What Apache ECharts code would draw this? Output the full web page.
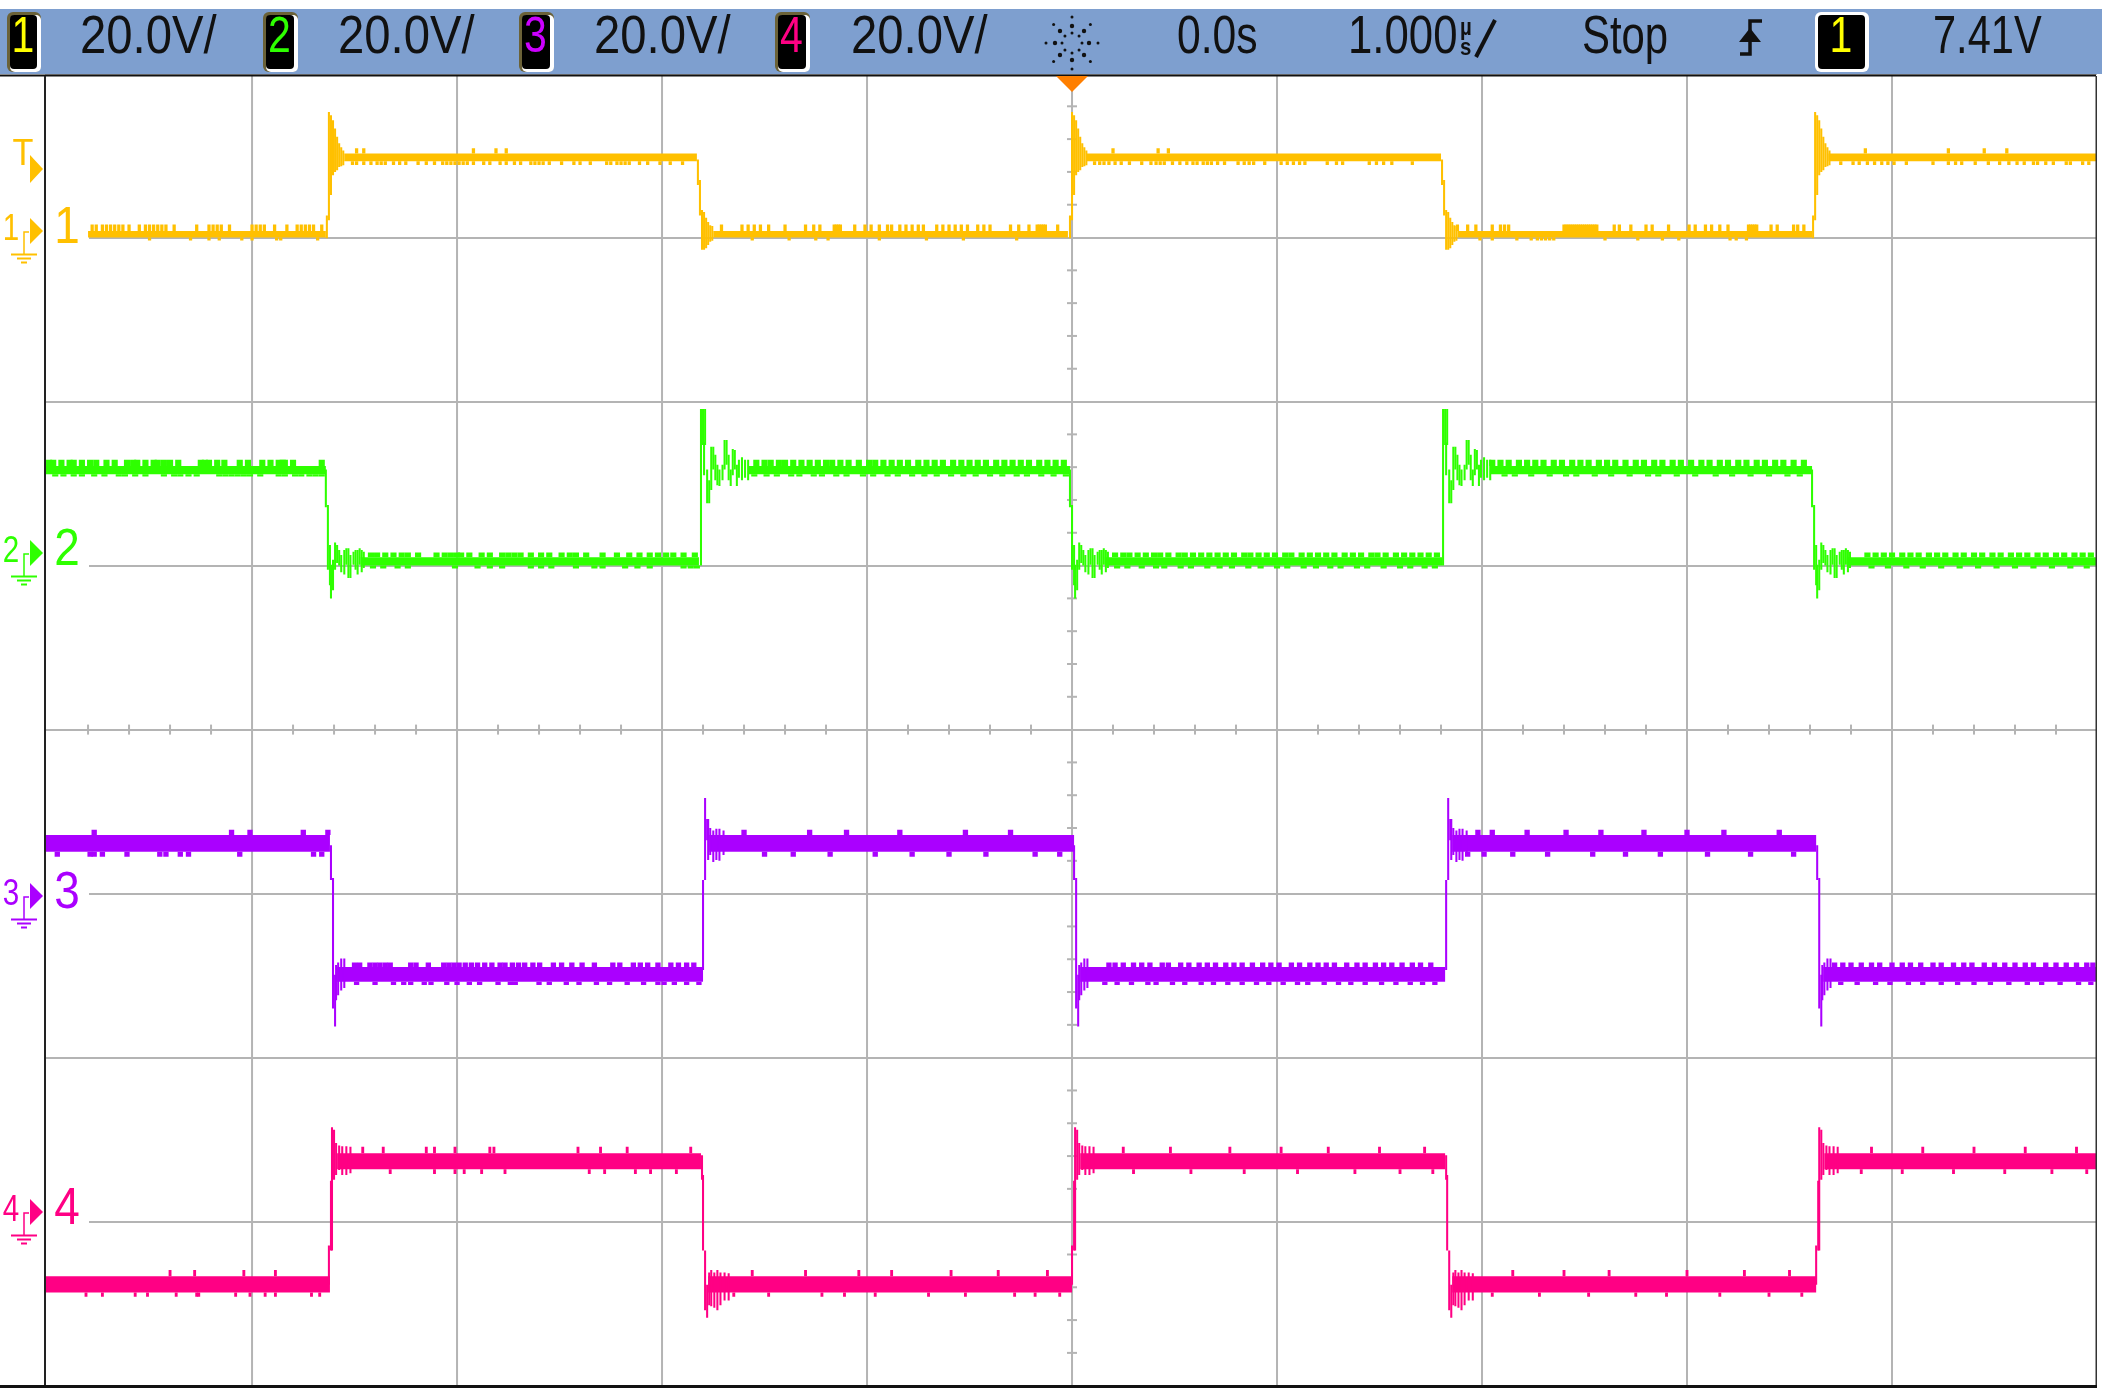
<!DOCTYPE html>
<html><head><meta charset="utf-8">
<style>html,body{margin:0;padding:0;background:#fff}#c{width:2102px;height:1389px}</style>
<script src="https://cdn.jsdelivr.net/npm/echarts@6/dist/echarts.min.js"></script>
</head><body><div id="c"></div>
<script>
// Time values are in units of 0.01 microsecond, voltages in volts above each channel's ground.
const chOffsets = [60, 20, -20, -60];            // ground marker of each channel on the 20 V/div screen
const chColors = ['#FFC000', '#2EFF00', '#AA00FF', '#FF0084'];
const chToothWidths = [1.6, 3.0, 2.6, 1.4];

// ---- channel 1 ----
const ch1Rises = [-363, -0.5, 362];
const ch1Falls = [-182, 181];
const ch1RiseRing = [[-1,-0.1,2.7],[0,2.1,15.3],[1,5.2,14.9],[2,7.6,14.3],[3,8,13.3],[4,8.2,12.3],[5,8.6,11.5],[6,8.7,11],[7,8.8,10.6]];
const ch1FallRing = [[-1,6.4,9.5],[0,2.7,7],[1,-1.5,3.35],[2,-1.5,3.1],[3,-1.3,2.4],[4,-0.9,1.9],[5,-0.5,1.5],[6,-0.4,1.4]];
// from, to, solid low, solid high, lowest tooth, highest tooth
const ch1Levels = [[-480,-364,0,0.8,-0.35,1.6],[-355,-183,9.3,10.25,8.85,10.9],[-175,-2,0,0.8,-0.35,1.6],[7,180,9.3,10.25,8.85,10.9],[188,361,0,0.8,-0.35,1.6],[369,500,9.3,10.25,8.85,10.9]];
const ch1Up = [-478,-476,-473,-471,-469,-467,-465,-463,-460,-455,-452,-450,-448,-446,-444,-442,-438,-427,-421,-419,-417,-415,-411,-400,-398,-396,-394,-389,-383,-378,-376,-374,-372,-370,-366,
 -349,-345.5,-292,-281,-276,
 -171,-161,-158,-155,-152,-148,-140,-130,-126,-123,-116,-115,-114,-113,-106,-101,-98,-94,-90,-88,-84,-81,-78,-75,-72.5,-66,-63,-60,-57,-54,-51,-46,-43,-40,-30,-26,-21,-17,-16,-15,-14,-13,-7,
 20,42,47,
 188,193,197,205,209,211,213,240,241,242,243,244,245,246,247,248,249,250,251,252,253,254,255,256,264.5,267,272.6,280,283,291,301,304,309,312,316,320,330,331,332,333,334,341,344,352,354,357,
 387,427.5,445,456];
const ch1Down = [-450,-430,-421,-416,-405,-400,-388,-386,-368,
 -351,-349,-345.5,-342,-339,-337,-335,-331,-328,-325,-319,-315,-311,-307,-305,-303,-301,-299,-297,-295,-292,-287,-284,-279,-276,-272,-269,-264,-262,-260,-258,-255,-249,-243,-240,-235,-227,-225,-222,-220,-218,-216,-211,-207,-201,-196,-190,
 -156,-138,-125,-119,-94,-71,-53,-27,
 11,13.5,15.6,18,21,24,28,34,38.5,41,43,45,49,52.6,56,59,61,64,66,68,71,74.4,81,84,86.4,88.6,94,102,105,108,111,113.6,124.5,129,132,145,148.5,152,156,166,
 199,205,217,224,227,229,231,233,235,260,276,288,296,321,324,329,
 375,381,384,388,391.5,395,398,401,407,420,427.5,431,434,440.6,447,452.5,457,461,464.5,469,471,475,478.7,485,487,493,496];

// ---- channel 2 ----
const ch2Rises = [-181, 181];
const ch2Falls = [-362, 1, 363];
const ch2RiseRing = [[-0.5,0,19.1],[0.5,14.7,19.1],[1,11,15],[1.5,14.7,19.1],[2.5,7.6,11.7],[3.5,7.6,10.4],[4.5,9.2,14.5],[5.5,11.7,14.5],[6.5,10.4,13.5],[7.5,9.8,12.3],[8.5,9.7,11.7],[10,10.4,12.3],[11,11.7,15.3],[12,12.3,15.3],[13,10.4,13.5],[14,9.7,11.7],[15,11,14.2],[16,11.7,14.1],[17,9.7,12.3],[18,10.7,12.9],[19.5,10.4,13.2],[21,10.7,12.9],[22.5,10.4,12.9]];
const ch2FallRing = [[-2.5,7.1,11.7],[-1.5,-0.5,7.4],[-0.5,-2.4,2.5],[0,-4,0.1],[1,-3,0.7],[2,-0.5,2.8],[3,0.3,2.5],[4,0,1.9],[5,-0.8,1.3],[6.5,-1.1,1.9],[7.5,0.1,2.1],[8.5,-1.5,2.1],[9.5,-1.5,1.3],[11,0.1,1.7],[12,-0.5,1.9],[13,-1.1,1.9],[14,0.1,2.1],[15,-0.8,1.9],[16,-0.3,1.7]];
const ch2Levels = [[-501,-364,11.15,12.15,10.85,12.9],[-347,-182,0,1,-0.35,1.6],[-158,-1,11.15,12.15,10.85,12.9],[16,180.5,0,1,-0.35,1.6],[204,361,11.15,12.15,10.85,12.9],[378,500,0,1,-0.35,1.6]];
const ch2Up = [-499,-497,-493,-489,-487,-483,-479,-476,-471,-467,-461,-458,-456,-452,-448,-446,-443,-440,-436,-425,-423,-421,-417,-413.5,-406,-402,-395,-391,-387,-385,-384,-380,-366,
 -342,-339,-335,-331,-327,-324,-319,-310,-306,-303,-300,-298,-294,-288,-284,-278,-275,-272,-269,-264,-259,-255,-249,-245,-242,-237,-229,-222,-216,-211,-206,-202,-198,-194.5,-189.5,-184,
 -154,-150,-147,-143,-140,-136,-132,-128,-124,-120,-117,-113,-109,-104,-99,-96,-92,-88,-84,-80,-75,-71,-67,-63,-58,-54,-50,-46,-42,-37,-33,-29,-25,-21,-16,-12,-8,-4,
 21,25,28,32,36,40,43,47,52,55,59,63,67,71,75,79,84,87,91,95,99,104,107,112,116,120,124,128,133,137,141,146,149,153,158,162,166,170,174,178,
 205,209,213,218,222,226,230,235,239,244,248,252,257,261,265,270,275,279,284,288,293,297,302,307,311,316,320,325,329,334,338,343,347,352,357,
 388,392,396,400,405,409,413,418,422,426,431,435,440,444,449,453,458,462,466,471,475,480,484,489,493,497];
const ch2Down = [-496,-492,-487,-483,-477,-472,-465,-462,-457,-452,-443,-438,-435,-431,-427,-416,-413,-410,-407,-404,-401,-396,-387,-384,-379,-376,-372,-369,-366,
 -341,-336,-329,-324,-301,-290,-284,-278,-264,-259,-254,-242,-233,-229,-218,-212,-206,-189.5,-186,-183,
 -155,-149,-144,-137,-133,-126,-122,-115,-110,-102,-97,-90,-85,-78,-72,-66,-59,-53,-47,-40,-34,-27,-22,-15,-9,-3,
 22,27,34,41,45,53,58,66,72,78,86,92,100,105,113,119,126,131,139,144,152,160,165,172,177,
 211,216,224,233,241,246,255,263,272,281,286,295,304,314,322,331,340,349,355,
 390,398,407,415,424,433,442,451,460,469,478,487,495];

// ---- channel 3 ----
const ch3Rises = [-179.5, 183];
const ch3Falls = [-361, 1.5, 364];
const ch3RiseRing = [[-1,-9.3,1.65],[0,1.65,11.65],[1,6.5,9.1],[1.5,4.1,9.1],[2.5,4.7,8],[4,3.85,7.7],[5.5,4.1,7.9],[7,4,7.9],[9,4.7,7.7]];
const ch3FallRing = [[-1,1.65,5.9],[0,-14,1.9],[1,-16.2,-9.9],[1.5,-13,-8.7],[2.5,-12.4,-8.4],[4,-11.8,-7.9],[5.5,-11.5,-7.9]];
const ch3Levels = [[-501,-362,5.1,7.15,4.5,7.8],[-358.5,-180,-10.75,-8.95,-11.15,-8.4],[-177,1,5.1,7.15,4.5,7.8],[4,182,-10.75,-8.95,-11.15,-8.4],[185.5,363,5.1,7.15,4.5,7.8],[366.5,500,-10.75,-8.95,-11.15,-8.4]];
const ch3Up = [-477,-410,-401,-375,-363,
 -350,-347.5,-342.5,-340,-337.6,-335,-332.6,-322.6,-320,-314,-306.5,-304,-301.5,-299,-296,-293,-290,-286.5,-283,-279,-276.6,-273,-270,-267,-263,-259.7,-253,-249,-244,-239,-233,-224,-220.6,-214,-210.6,-207,-202,-195.7,-192,-188,-184.5,
 -160,-128,-110,-84,-52,-30,
 18,21,25,30,34,38,44,47,53,57,62,66,70,75,79,83,88,93,97,101,107,111,116,120,124,128,134,139,143,148,152,156,161,166,170,175,
 198,205,222,241,258,279,300,318,345,
 372,376,380,385,390,394,400,405,409,414,420,424,430,435,439,445,450,455,460,465,469,475,480,485,490,495,498];
const ch3Down = [-495,-479,-477,-473,-461,-445,-442,-435,-431,-406,-370,-366,
 -349,-340,-331,-326,-322.6,-316,-312.7,-305,-300,-294,-289,-280,-274,-271.6,-260,-255,-246.7,-240.5,-232,-225.6,-217,-209,-202,-199,-194,-188,-182,
 -150,-136,-118,-96,-78,-60,-42,-18,-6,
 16,22,29,37,41,49,55,63,69,76,83,90,96,103,110,115,123,130,136,143,151,158,165,171,177,
 193,201,215,232,254,270,287,310,331,352,
 375,383,392,399,408,415,424,432,440,448,457,466,473,482,491,497];

// ---- channel 4 ----
const ch4Rises = [-361.5, 1, 364];
const ch4Falls = [-180, 183];
const ch4RiseRing = [[-1.5,-7.7,-2.9],[-0.5,-3.5,5],[0,-3.5,11.5],[1,5.1,11.2],[2,5.7,9.6],[3.5,6.3,9.3],[5,5.7,9.2],[7,5.7,9.2],[9,5.9,9.15]];
const ch4FallRing = [[-1,5.1,8.1],[-0.5,-3.5,5.7],[0.5,-10.8,-3.5],[1.5,-11.7,-7.7],[2.5,-10.2,-6.2],[3.5,-10.3,-5.9],[5,-10.5,-6.2],[6.5,-10.8,-5.9],[8,-10.2,-6.2],[10,-9.6,-6.2],[12,-9.6,-6.3]];
const ch4Levels = [[-501,-362,-8.65,-6.65,-9.15,-5.9],[-358.5,-181,6.4,8.35,5.8,9.15],[-177.5,0,-8.65,-6.65,-9.15,-5.9],[4,182,6.4,8.35,5.8,9.15],[185.5,363,-8.65,-6.65,-9.15,-5.9],[367,500,6.4,8.35,5.8,9.15]];
const ch4Up = [-440,-428,-404,-388.6,-346,-336,-315,-311,-301,-284,-282,-241,-230,-217,-186,-156,-130,-104,-88,-59,-36,-12,25,48,77,102,125,150,172,215,240,262,300,328,350,390,415,440,465,490];
const ch4Down = [-481,-473,-457,-451,-437,-427,-426,-408,-401,-393.6,-388.6,-371,-367,-332.6,-311,-301,-296.5,-288,-276.6,-235.5,-228,-213,-205.6,-193,-165,-148,-122,-111,-96,-70,-52,-28,-18,-6,30,58,84,110,138,160,176,205,228,252,275,290,316,340,356,385,405,430,455,478,495];

// Graticule: vertical division lines (microseconds) and minor marks on the centre lines
const divisionTimes = [-4,-3,-2,-1,0,1,2,3,4];
const centreTimeTicks = [-4.8,-4.6,-4.4,-4.2,-3.8,-3.6,-3.4,-3.2,-2.8,-2.6,-2.4,-2.2,-1.8,-1.6,-1.4,-1.2,-0.8,-0.6,-0.4,-0.2,0.2,0.4,0.6,0.8,1.2,1.4,1.6,1.8,2.2,2.4,2.6,2.8,3.2,3.4,3.6,3.8,4.2,4.4,4.6,4.8];
const centreVoltTicks = [-76,-72,-68,-64,-56,-52,-48,-44,-36,-32,-28,-24,-16,-12,-8,-4,4,8,12,16,24,28,32,36,44,48,52,56,64,68,72,76];

// Header read-outs
const headerScales = ['20.0V/','20.0V/','20.0V/','20.0V/'];
const headerDelay = '0.0s', headerTime = '1.000', headerState = 'Stop', headerTrig = '7.41V';

const chData = [
 [ch1Rises,ch1Falls,ch1RiseRing,ch1FallRing,ch1Levels,ch1Up,ch1Down],
 [ch2Rises,ch2Falls,ch2RiseRing,ch2FallRing,ch2Levels,ch2Up,ch2Down],
 [ch3Rises,ch3Falls,ch3RiseRing,ch3FallRing,ch3Levels,ch3Up,ch3Down],
 [ch4Rises,ch4Falls,ch4RiseRing,ch4FallRing,ch4Levels,ch4Up,ch4Down]
];

function buildRows(i){
  const [rises,falls,riseRing,fallRing,levels,up,down]=chData[i], off=chOffsets[i], w=chToothWidths[i], rows=[];
  const add=(a,b,lo,hi)=>rows.push([a/100,b/100,lo+off,hi+off]);
  const at=t=>levels.find(l=>t>=l[0]&&t<=l[1]);
  levels.forEach(l=>add(l[0],l[1],l[2],l[3]));
  up.forEach(t=>{const l=at(t); if(l) add(t-w/2,t+w/2,l[3],l[5]);});
  down.forEach(t=>{const l=at(t); if(l) add(t-w/2,t+w/2,l[4],l[2]);});
  rises.forEach(e=>riseRing.forEach(r=>add(e+r[0],e+r[0]+1,r[1],r[2])));
  falls.forEach(e=>fallRing.forEach(r=>add(e+r[0],e+r[0]+1,r[1],r[2])));
  return rows;
}
const traceSeries = chColors.map((color,i)=>({
  name:'Channel '+(i+1), type:'custom', silent:true, animation:false, clip:true, z:5,
  encode:{x:[0,1],y:[2,3]}, data:buildRows(i),
  renderItem:(p,api)=>{
    const a=api.coord([api.value(0),api.value(3)]), b=api.coord([api.value(1),api.value(2)]);
    return {type:'rect',shape:{x:a[0],y:a[1],width:b[0]-a[0],height:b[1]-a[1]},style:{fill:color}};
  }
}));
const tickStyle={stroke:'#B4B4B4',lineWidth:2};
const divisionSeries={type:'custom',silent:true,animation:false,z:1,encode:{x:0},data:divisionTimes.map(t=>[t]),
  renderItem:(p,api)=>{const a=api.coord([api.value(0),80]),b=api.coord([api.value(0),-80]);return{type:'line',shape:{x1:a[0],y1:a[1],x2:b[0],y2:b[1]},style:tickStyle};}};
const timeTickSeries={type:'custom',silent:true,animation:false,z:2,encode:{x:0},data:centreTimeTicks.map(t=>[t]),
  renderItem:(p,api)=>{const c=api.coord([api.value(0),0]);return{type:'line',shape:{x1:c[0],y1:c[1]-5,x2:c[0],y2:c[1]+5},style:tickStyle};}};
const voltTickSeries={type:'custom',silent:true,animation:false,z:2,encode:{y:0},data:centreVoltTicks.map(v=>[v]),
  renderItem:(p,api)=>{const c=api.coord([0,api.value(0)]);return{type:'line',shape:{x1:c[0]-5,y1:c[1],x2:c[0]+5,y2:c[1]},style:tickStyle};}};

// ---- screen furniture ----
const FONT='"Liberation Sans", Arial, sans-serif';
const g=[];
const rect=(x,y,w,h,fill,z=20)=>g.push({type:'rect',z,silent:true,shape:{x,y,width:w,height:h},style:{fill}});
const text=(s,x,y,size,fill,sx=1,extra={})=>g.push({type:'text',z:30,silent:true,x,y,scaleX:sx,style:{text:s,fill,font:`${extra.weight||'normal'} ${size}px ${FONT}`,textAlign:extra.align||'left',textVerticalAlign:'middle'}});
const poly=(pts,fill,z=30)=>g.push({type:'polygon',z,silent:true,shape:{points:pts},style:{fill}});
const pline=(pts,stroke,lw,z=30)=>g.push({type:'polyline',z,silent:true,shape:{points:pts},style:{stroke,lineWidth:lw,fill:null}});

rect(0,9,2102,65,'#7E9FCF');
rect(0,74.5,2096,2,'#111');
rect(44,76,2,1310,'#222');
rect(2095.5,76,1.5,1310,'#333');
rect(0,1385,2097,3,'#111');

function chBox(x,w,digit,color,white){
  g.push({type:'rect',z:25,silent:true,shape:{x:x,y:12,width:w,height:60,r:6},style:{fill:white?'#FFFFFF':'#6B6238'}});
  if(!white) g.push({type:'rect',z:25,silent:true,shape:{x:x+3,y:15,width:w-3,height:57,r:5},style:{fill:'#FFFFFF'}});
  g.push({type:'rect',z:26,silent:true,shape:{x:x+3,y:15,width:w-7,height:54,r:4},style:{fill:'#000'}});
  text(digit,x+(w-2)/2,38,50,color,0.82,{align:'center'});
}
chBox(7,34,'1','#FFFF00'); chBox(263,35,'2','#2EFF00'); chBox(519,35,'3','#CC00FF'); chBox(775,35,'4','#FF0084');
chBox(1815,54,'1','#FFFF00',true);

[80,338,594,851].forEach((x,i)=>text(headerScales[i],x,38,54,'#111',0.875));
text(headerDelay,1177,38,54,'#111',0.79);
text(headerTime,1348,38,54,'#111',0.81);
text('\u00B5',1460,28,24,'#111',0.85,{weight:'bold'});
text('s',1460,48,24,'#111',0.85,{weight:'bold'});
pline([[1476,57],[1495,20]],'#111',4);
text(headerState,1582,38,54,'#111',0.775);
text(headerTrig,1933,38,54,'#111',0.77);
// trigger slope icon
pline([[1762,21],[1750,21],[1750,54],[1740,54]],'#111',3.5);
poly([[1750,28],[1761,42],[1739,42]],'#111');
// acquisition star icon
for(let a=0;a<8;a++){
  const th=a*Math.PI/4;
  [[10,1.5],[17,2.2],[26,1.5]].forEach(([r,s])=>g.push({type:'circle',z:30,silent:true,shape:{cx:1072+r*Math.cos(th),cy:43+r*Math.sin(th),r:s},style:{fill:'#111'}}));
}
// time reference marker
poly([[1056,76],[1088,76],[1072,92]],'#FF7F00');

// channel markers
const markerY=[231,553,896,1212], groundRows=[237.5,565.6,893.5,1221.6];
chColors.forEach((color,i)=>{
  const c=markerY[i];
  rect(46,groundRows[i]-2,43,4,'#FFFFFF',3);
  const d=String(i+1);
  text(d,11,c-1,37,color,0.8,{align:'center'});
  poly([[30,c-13],[43,c],[30,c+13]],color);
  pline([[29,c+1],[24,c+1],[24,c+23]],color,1.5);
  pline([[11,c+23.5],[37,c+23.5]],color,2);
  pline([[17,c+27.5],[31,c+27.5]],color,2);
  pline([[21,c+31.5],[27,c+31.5]],color,2);
  text(d,67,c-2,51,color,0.9,{align:'center'});
});
// trigger level marker
text('T',23,155,36,chColors[0],0.95,{align:'center'});
poly([[30,155],[43,169],[30,183]],chColors[0]);

const chart=echarts.init(document.getElementById('c'),null,{renderer:'canvas'});
chart.setOption({
  animation:false, backgroundColor:'#FFFFFF', tooltip:{show:false}, legend:{show:false},
  grid:{left:45,right:5,top:73.5,bottom:3.3,containLabel:false},
  xAxis:{type:'value',min:-5.01,max:5,axisLine:{show:false},axisTick:{show:false},axisLabel:{show:false},splitLine:{show:false}},
  yAxis:{type:'value',min:-80,max:80,interval:20,axisLine:{show:false},axisTick:{show:false},axisLabel:{show:false},
    splitLine:{show:true,lineStyle:{color:'#B4B4B4',width:2}}},
  graphic:{elements:g},
  series:[divisionSeries,timeTickSeries,voltTickSeries,...traceSeries]
});
</script></body></html>
